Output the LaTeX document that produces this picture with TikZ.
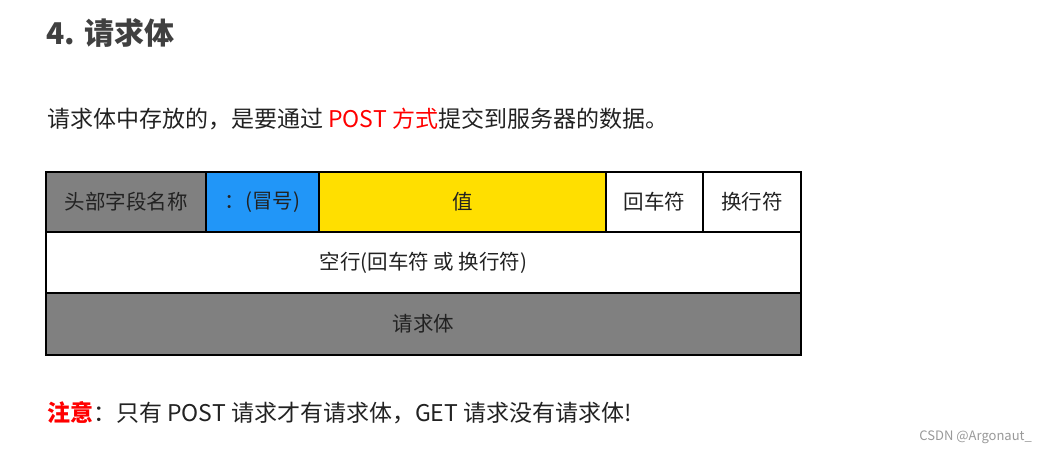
\documentclass[tikz,border=0pt]{standalone}
\usepackage{fontspec}
\setmainfont{Noto Sans CJK SC}
\definecolor{titlegray}{HTML}{404040}
\definecolor{cellgray}{HTML}{808080}
\definecolor{cellblue}{HTML}{2196F8}
\definecolor{cellyellow}{HTML}{FFDF00}
\definecolor{txt}{HTML}{222222}
\definecolor{wm}{HTML}{999999}
\begin{document}
\begin{tikzpicture}[x=1pt,y=-1pt,
  cell/.style={draw=black, line width=2.5pt, inner sep=0pt, minimum height=60pt,
    font=\fontsize{20.5}{20.5}\selectfont, text=txt},
  para/.style={anchor=west, inner sep=0pt, font=\fontsize{23}{23}\selectfont, text=txt}]
\useasboundingbox (0,0) rectangle (1048,453);
\node[anchor=west, inner sep=0pt, font=\fontsize{30}{30}\selectfont\bfseries, text=titlegray] (title) at (46,33) {4. 请求体};
\node[para] (intro) at (47,119) {请求体中存放的，是要通过 \textcolor{red}{POST 方式}提交到服务器的数据。};
% row 1
\node[cell, fill=cellgray, minimum width=160pt] (name) at (126,202) {头部字段名称};
\node[cell, fill=cellblue, minimum width=113pt] (colon) at (262.5,202) {：(冒号)};
\node[cell, fill=cellyellow, minimum width=287pt] (value) at (462.5,202) {值};
\node[cell, fill=white, minimum width=97pt] (cr) at (654.5,202) {回车符};
\node[cell, fill=white, minimum width=98pt] (lf) at (752,202) {换行符};
% row 2
\node[cell, fill=white, minimum width=755pt, minimum height=61pt] (blank) at (423.5,262.5) {空行(回车符 或 换行符)};
% row 3
\node[cell, fill=cellgray, minimum width=755pt, minimum height=62pt] (body) at (423.5,324) {请求体};
\node[para] (note) at (47,413) {\textcolor{red}{\bfseries 注意}：只有 POST 请求才有请求体，GET 请求没有请求体!};
\node[anchor=east, inner sep=0pt, font=\fontsize{13}{13}\selectfont, text=wm] (mark) at (1032,437) {CSDN @Argonaut\_};
\end{tikzpicture}
\end{document}
